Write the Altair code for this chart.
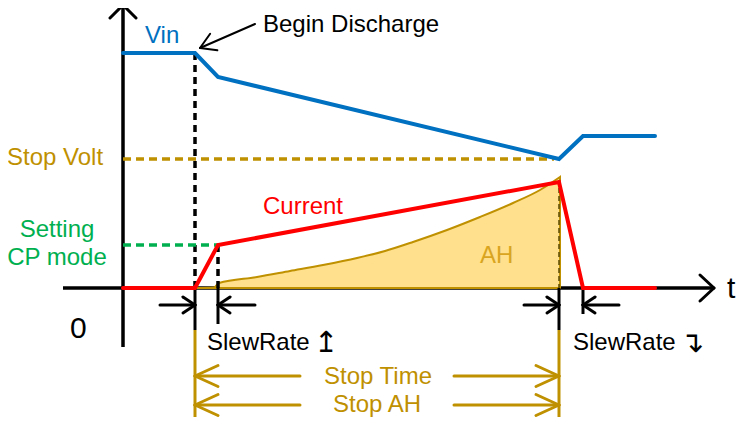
import math
import altair as alt
import pandas as pd

FONT = "Liberation Sans"

# ---- diagram data (diagram units = page pixels) ----
vin_t = [123, 195, 218, 559, 583, 655]
vin_v = [53, 53, 77, 159, 136, 136]

cur_t = [123, 195, 218, 559, 583, 655]
cur_v = [288, 288, 245, 182, 288, 288]

ah_t = [195, 214, 219, 257, 290, 323, 357, 385, 413, 447, 480, 513, 540, 560]
ah_v = [288, 287.5, 283, 277, 271, 265, 258, 251, 242, 230, 217, 203, 190, 177]
ah_base = 288

# segments: x, y, x2, y2
axis_segs = [(123, 6, 123, 347), (63, 288, 714, 288)]
tick_segs = [(195, 288, 195, 330), (218, 288, 218, 324), (559, 288, 559, 330), (583, 288, 583, 314)]
slew_shafts = [(160, 305, 195, 305), (255, 305, 218, 305), (524, 305, 559, 305), (619, 305, 583, 305)]
begin_arrow = (255, 24, 200, 48)
dotted_segs = [(195, 53, 195, 288), (218, 245, 218, 288)]
ah_edge_segs = [(559, 180, 559, 288)]
stopvolt_segs = [(123, 159, 554, 159)]
cp_segs = [(123, 245, 218, 245)]
gold_vert = [(195, 330, 195, 425), (559, 330, 559, 425)]
gold_shafts = [(300, 376, 195, 376), (454, 376, 559, 376), (300, 405, 195, 405), (454, 405, 559, 405)]

labels_left = [
    ("Vin", 145, 43, "#0070C0", 24),
    ("Begin Discharge", 263, 32, "#000000", 24),
    ("Stop Volt", 7, 165, "#BF9000", 24),
    ("Current", 263, 214, "#FF0000", 24),
    ("AH", 480, 263, "#D9A521", 24),
    ("SlewRate", 207, 350, "#000000", 24),
    ("SlewRate", 573, 350, "#000000", 24),
    ("0", 70, 338, "#000000", 30),
    ("t", 727, 298, "#000000", 30),
]
glyphs = [
    ("\u21A5", 314, 352, "#000000", 29),
    ("\u21B4", 680, 352, "#000000", 29),
]
labels_center = [
    ("Setting", 57, 237, "#00B050", 24),
    ("CP mode", 57, 265, "#00B050", 24),
    ("Stop Time", 378, 384, "#BF9000", 24),
    ("Stop AH", 377, 412, "#BF9000", 24),
]

W, H = 728, 409
XS = alt.Scale(domain=[8, 8 + W], nice=False, zero=False)
YS = alt.Scale(domain=[8, 8 + H], nice=False, zero=False, reverse=True)


def chevron(seg, L, Wd):
    x1, y1, x2, y2 = seg
    dx, dy = x2 - x1, y2 - y1
    n = math.hypot(dx, dy)
    ux, uy = dx / n, dy / n
    px, py = -uy, ux
    bx, by = x2 - L * ux, y2 - L * uy
    return [(x2, y2, bx + Wd * px, by + Wd * py), (x2, y2, bx - Wd * px, by - Wd * py)]


def segdf(segs):
    return pd.DataFrame(segs, columns=["x", "y", "x2", "y2"])


def rules(segs, color, width, dash=None, cap="butt"):
    kw = dict(color=color, strokeWidth=width, strokeCap=cap, clip=False)
    if dash:
        kw["strokeDash"] = dash
    return alt.Chart(segdf(segs)).mark_rule(**kw).encode(
        x=alt.X("x:Q", scale=XS, axis=None),
        y=alt.Y("y:Q", scale=YS, axis=None),
        x2="x2:Q",
        y2="y2:Q",
    )


def polyline(xs, ys, color, width):
    df = pd.DataFrame({"x": xs, "y": ys, "i": range(len(xs))})
    return alt.Chart(df).mark_line(color=color, strokeWidth=width, strokeCap="round",
                                   strokeJoin="miter").encode(
        x=alt.X("x:Q", scale=XS, axis=None),
        y=alt.Y("y:Q", scale=YS, axis=None),
        order="i:Q",
    )


def texts(items, align, font=FONT):
    df = pd.DataFrame(items, columns=["text", "x", "y", "color", "size"])
    return alt.Chart(df).mark_text(align=align, baseline="alphabetic", font=font).encode(
        x=alt.X("x:Q", scale=XS, axis=None),
        y=alt.Y("y:Q", scale=YS, axis=None),
        text="text:N",
        color=alt.Color("color:N", scale=None),
        size=alt.Size("size:Q", scale=None),
    )


area_df = pd.DataFrame({"x": ah_t, "y": ah_v, "y2": [ah_base] * len(ah_t)})
area = alt.Chart(area_df).mark_area(color="#FFE08C", stroke="#BF9000", strokeWidth=2,
                                    opacity=1, interpolate="monotone").encode(
    x=alt.X("x:Q", scale=XS, axis=None),
    y=alt.Y("y:Q", scale=YS, axis=None),
    y2="y2:Q",
)

black_arrows = []
black_arrows += chevron((123, 40, 123, 5), 13, 13)
black_arrows += chevron((680, 288, 714, 288), 14, 13)
for s in slew_shafts:
    black_arrows += chevron(s, 12, 8)
begin_heads = chevron(begin_arrow, 15, 9)
gold_heads = []
for s in gold_shafts:
    gold_heads += chevron(s, 23, 10.5)

layers = [
    rules(axis_segs, "#000000", 3.5),
    area,
    rules(ah_edge_segs, "#5A4A00", 1.5, dash=[5, 3]),
    rules(dotted_segs, "#000000", 3.5, dash=[7, 5]),
    rules(stopvolt_segs, "#BF9000", 3.5, dash=[8, 5]),
    rules(cp_segs, "#00B050", 3.5, dash=[8, 5]),
    rules(tick_segs, "#000000", 3),
    rules(slew_shafts + black_arrows, "#000000", 3, cap="round"),
    rules([begin_arrow] + begin_heads, "#000000", 2, cap="round"),
    rules(gold_vert, "#BF9000", 3),
    rules(gold_shafts + gold_heads, "#BF9000", 3, cap="round"),
    polyline(cur_t, cur_v, "#FF0000", 4),
    polyline(vin_t, vin_v, "#0070C0", 4),
    texts(labels_left, "left"),
    texts(glyphs, "left", font="DejaVu Sans"),
    texts(labels_center, "center"),
]

chart = alt.layer(*layers).properties(
    width=W, height=H, padding=0, autosize=alt.AutoSizeParams(type="none"),
).configure_view(stroke=None)

chart.save("out.html", embed_options={"renderer": "svg", "actions": False})
